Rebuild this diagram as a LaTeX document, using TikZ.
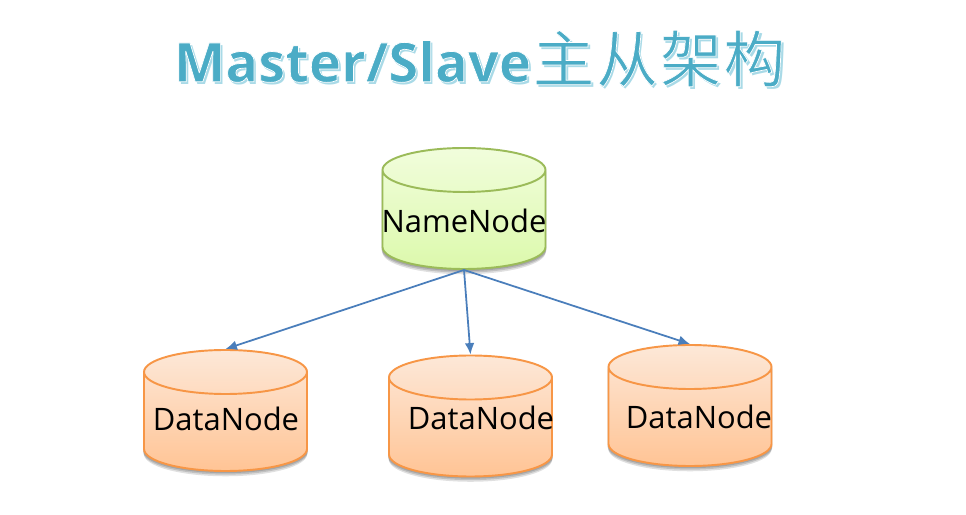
\documentclass[tikz,border=0pt]{standalone}
\usepackage{fontspec}
\setmainfont{Open Sans}
\newfontfamily\cjkfont{Noto Sans CJK SC}
\usetikzlibrary{shapes.geometric,shadows,arrows.meta}
\definecolor{titleblue}{HTML}{4BACC6}
\definecolor{titleshade}{HTML}{A9DAE7}
\definecolor{linkblue}{HTML}{4A7EBB}
\definecolor{namedraw}{HTML}{9BBB59}
\definecolor{nametop}{HTML}{F1FDDC}
\definecolor{namebot}{HTML}{DCF9AC}
\definecolor{datadraw}{HTML}{F79646}
\definecolor{datatop}{HTML}{FDE8D8}
\definecolor{databot}{HTML}{FFC495}
\newcommand{\titletext}{\fontsize{31}{36}\selectfont\bfseries Master/Slave{\cjkfont\mdseries\fontsize{35}{36}\selectfont\hspace{1pt}主\hspace{1.2pt}从\hspace{1.2pt}架\hspace{1.2pt}构}}
\tikzset{
	softshadow/.style={
		drop shadow={shadow xshift=0pt,shadow yshift=-.8pt,shadow scale=1.012,opacity=.14,fill=black},
		drop shadow={shadow xshift=0pt,shadow yshift=-1.8pt,shadow scale=1.008,opacity=.14,fill=black},
		drop shadow={shadow xshift=0pt,shadow yshift=-3pt,shadow scale=1,opacity=.12,fill=black}},
	cyl/.style={softshadow,cylinder,shape border rotate=90,shape aspect=1.1,anchor=shape center,draw,line width=1.1pt,inner sep=.4cm,minimum width=3.26cm,minimum height=2.42cm},
	namecyl/.style={cyl,draw=namedraw,top color=nametop,bottom color=namebot},
	datacyl/.style={cyl,draw=datadraw,top color=datatop,bottom color=databot},
	nodetext/.style={font=\fontsize{17.6}{20}\selectfont,text=black,inner sep=0pt},
	link/.style={-{Latex[length=6.5pt,width=5.5pt]},line width=1pt,draw=linkblue}
}
\begin{document}
\begin{tikzpicture}
	\useasboundingbox (0,0) rectangle (19.32,10.28);
	\node[text=titleshade,inner sep=0pt] at (9.64,9.06) {\titletext};
	\node[text=titleblue,inner sep=0pt] (title) at (9.59,9.11) {\special{pdf:code 2 Tr 0.4 w 1 1 1 RG}\titletext\special{pdf:code 0 Tr}};
	% cylinders
	\node[namecyl] (name) at (9.28,6.11) {};
	\node[datacyl] (data1) at (4.51,2.07) {};
	\node[datacyl] (data2) at (9.41,1.96) {};
	\node[datacyl] (data3) at (13.8,2.17) {};
	% labels
	\node[nodetext] (nametext) at (9.28,5.86) {NameNode};
	\node[nodetext] (datatext1) at (4.52,1.9) {DataNode};
	\node[nodetext] (datatext2) at (9.62,1.92) {DataNode};
	\node[nodetext] (datatext3) at (13.98,1.94) {DataNode};
	% arrows
	\draw[link] (name.south) -- (data1.north);
	\draw[link] (name.south) -- (data2.north);
	\draw[link] (name.south) -- (data3.north);
\end{tikzpicture}
\end{document}
